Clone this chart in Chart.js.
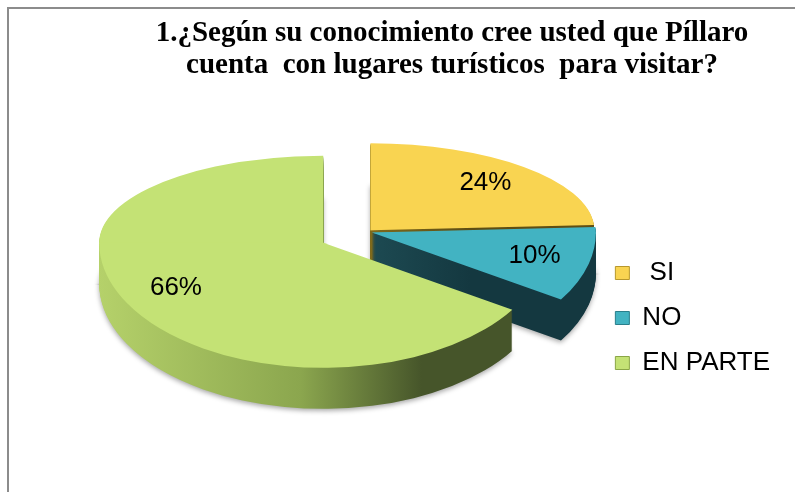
<!DOCTYPE html>
<html lang="es">
  <head>
    <meta charset="UTF-8" />
    <title>Píllaro - lugares turísticos</title>
    <script src="https://cdn.jsdelivr.net/npm/chart.js"></script>
    <style>
      html, body { margin: 0; padding: 0; background: #fff; }
      #contenedor { width: 795px; height: 492px; position: relative; }
    </style>
  </head>
  <body>
    <div id="contenedor"><canvas id="grafico"></canvas></div>

    <script>
      // Datos del gráfico
      var categorias = [" SI", "NO", "EN PARTE"];
      var porcentajes = [24, 10, 66];
      var textosPct = ["24%", "10%", "66%"];

      // Colores: cara superior y lateral (claro -> oscuro)
      var coloresCara = ["#f9d451", "#42b3c2", "#c4e275"];
      var coloresBorde = ["#b8982c", "#2a7f8c", "#8aa646"];
      var ladosClaros = ["#a88e2c", "#2f7580", "#b5d16a"];
      var ladosMedios = ["#86701e", "#1f4e56", "#8ba64e"];
      var ladosOscuros = ["#5e4e14", "#143840", "#46552a"];

      // Geometría de la vista en perspectiva (mitad lejana más corta que la cercana)
      var CENTRO_X = 367, CENTRO_Y = 232;
      var RADIO_X = 224;
      var RADIO_Y_LEJOS = 87, RADIO_Y_CERCA = 125;
      var INCLINACION = 0.45;
      var GROSOR = 41;
      var FACTOR_ETIQ = 0.75;
      var ANCHO = 795, ALTO = 492;

      var fuenteSans = "'Liberation Sans', Arial, sans-serif";
      var fuenteSerif = "'Liberation Serif', 'Times New Roman', serif";

      function dibujarArco(arco, relleno, ctx) {
        var copia = Object.create(arco);
        copia.options = Object.assign({}, arco.options, { backgroundColor: relleno, borderWidth: 0, offset: 0 });
        arco.draw.call(copia, ctx);
      }

      // dibuja el sector con la mitad lejana y la cercana en escalas distintas
      function dibujarSector(ctx, arco, base, cx, cy, relleno) {
        var R = base.outerRadius;
        var sx = RADIO_X / R;
        var mitades = [
          [0, cy + 1, RADIO_Y_LEJOS / R],
          [cy, ALTO - cy, RADIO_Y_CERCA / R],
        ];
        mitades.forEach(function (m) {
          ctx.save();
          ctx.beginPath();
          ctx.rect(0, m[0], ANCHO, m[1]);
          ctx.clip();
          ctx.translate(cx, cy);
          ctx.scale(sx, m[2]);
          ctx.translate(-base.x, -base.y);
          dibujarArco(arco, relleno, ctx);
          ctx.restore();
        });
      }

      function centroSector(arco) {
        var medio = (arco.startAngle + arco.endAngle) / 2;
        var sep = arco.options.offset || 0;
        return {
          medio: medio,
          x: CENTRO_X + Math.cos(medio) * sep,
          y: CENTRO_Y + Math.sin(medio) * sep * INCLINACION,
        };
      }

      var pastel3D = {
        id: "pastel3D",
        beforeDatasetsDraw: function (chart) {
          var ctx = chart.ctx;
          var arcos = chart.getDatasetMeta(0).data;
          var base = arcos[0];
          var R = base.outerRadius;

          arcos.forEach(function (arco, i) {
            var c = centroSector(arco);

            // gradiente horizontal en coordenadas del arco
            var lado = ctx.createLinearGradient(base.x - R, 0, base.x + R, 0);
            lado.addColorStop(0, ladosClaros[i]);
            lado.addColorStop(0.45, ladosMedios[i]);
            lado.addColorStop(0.72, ladosOscuros[i]);
            lado.addColorStop(1, ladosOscuros[i]);

            for (var d = GROSOR; d >= 1; d--) {
              ctx.save();
              if (d === GROSOR) {
                ctx.shadowColor = "rgba(0,0,0,0.35)";
                ctx.shadowBlur = 5;
                ctx.shadowOffsetY = 2;
              }
              dibujarSector(ctx, arco, base, c.x, c.y + d, lado);
              ctx.restore();
            }
            dibujarSector(ctx, arco, base, c.x, c.y, coloresCara[i]);
          });
          return false;
        },
        afterDraw: function (chart) {
          var ctx = chart.ctx;
          var arcos = chart.getDatasetMeta(0).data;

          // etiquetas de porcentaje
          ctx.save();
          ctx.font = "26px " + fuenteSans;
          ctx.fillStyle = "#000";
          ctx.textAlign = "center";
          ctx.textBaseline = "middle";
          arcos.forEach(function (arco, i) {
            var c = centroSector(arco);
            var sen = Math.sin(c.medio);
            var ry = sen < 0 ? RADIO_Y_LEJOS : RADIO_Y_CERCA;
            var px = c.x + Math.cos(c.medio) * RADIO_X * FACTOR_ETIQ;
            var py = c.y + sen * ry * FACTOR_ETIQ;
            ctx.fillText(textosPct[i], px, py);
          });
          ctx.restore();

          // marco gris
          ctx.save();
          ctx.strokeStyle = "#8c8c8c";
          ctx.lineWidth = 2;
          ctx.beginPath();
          ctx.moveTo(8, ALTO);
          ctx.lineTo(8, 8);
          ctx.lineTo(ANCHO, 8);
          ctx.stroke();
          ctx.restore();
        }
      };

      var ctx = document.getElementById("grafico").getContext("2d");
      var grafico = new Chart(ctx, {
        type: "pie",
        data: {
          labels: categorias,
          datasets: [
            {
              data: porcentajes,
              backgroundColor: coloresCara,
              borderColor: coloresBorde,
              borderWidth: 1,
              offset: [5, 5, 50],
              hoverOffset: 0,
            },
          ],
        },
        options: {
          responsive: true,
          maintainAspectRatio: false,
          animation: false,
          events: [],
          layout: {
            padding: { left: 124, right: 15, top: 0, bottom: 97 },
          },
          plugins: {
            title: {
              display: true,
              text: [
                "1.¿Según su conocimiento cree usted que Píllaro",
                "cuenta  con lugares turísticos  para visitar?",
              ],
              color: "#000",
              font: { family: fuenteSerif, size: 29, weight: "bold", lineHeight: 1.1 },
              padding: { top: 18, bottom: 10 },
            },
            legend: {
              position: "right",
              align: "end",
              labels: {
                color: "#000",
                boxWidth: 14,
                boxHeight: 13,
                padding: 19,
                font: { family: fuenteSans, size: 26 },
              },
            },
            tooltip: { enabled: false },
          },
        },
        plugins: [pastel3D],
      });
    </script>
  </body>
</html>
